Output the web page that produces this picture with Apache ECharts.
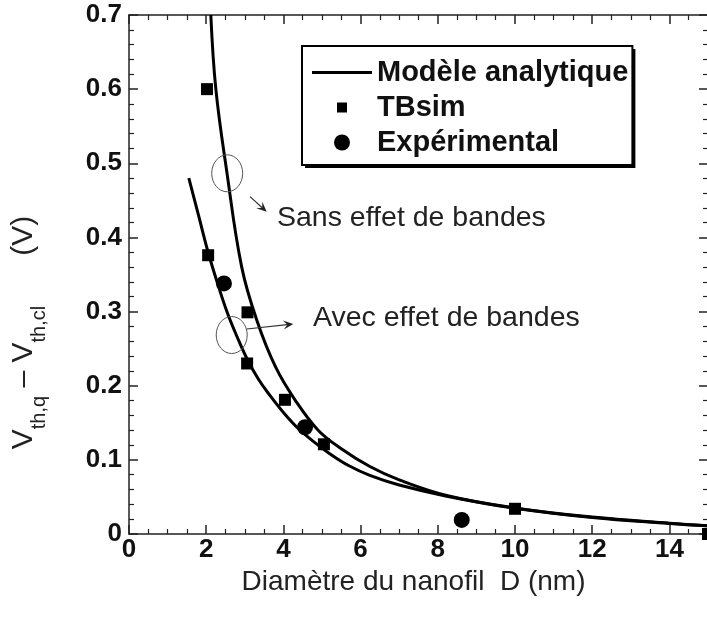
<!DOCTYPE html>
<html><head><meta charset="utf-8">
<script src="https://cdn.jsdelivr.net/npm/echarts@6/dist/echarts.min.js"></script>
<style>html,body{margin:0;padding:0;background:#fff}#c{width:707px;height:619px}</style>
</head><body><div id="c"></div>
<script>
// ---------- data ----------
const xTicks = [0, 2, 4, 6, 8, 10, 12, 14];
const xTickLabels = ['0', '2', '4', '6', '8', '10', '12', '14'];
const yTicks = [0, 0.1, 0.2, 0.3, 0.4, 0.5, 0.6, 0.7];
const yTickLabels = ['0', '0.1', '0.2', '0.3', '0.4', '0.5', '0.6', '0.7'];

// Modèle analytique – sans effet de bandes
const sansX = [2.12, 2.25, 2.53, 2.92, 3.32, 3.8, 4.3, 4.9, 5.5, 6.24, 7.0, 8.23, 10, 12, 14, 15];
const sansY = [0.70, 0.60, 0.49, 0.36, 0.287, 0.225, 0.181, 0.140, 0.115, 0.091, 0.073, 0.052, 0.0352, 0.0228, 0.0145, 0.011];
// Modèle analytique – avec effet de bandes
const avecX = [1.55, 1.8, 2.05, 2.3, 2.55, 2.8, 3.06, 3.35, 3.65, 4.0, 4.39, 4.8, 5.21, 5.7, 6.24, 7.0, 8.23, 10, 12, 14, 15];
const avecY = [0.48, 0.43, 0.38, 0.337, 0.298, 0.266, 0.236, 0.209, 0.187, 0.164, 0.142, 0.124, 0.108, 0.092, 0.079, 0.066, 0.051, 0.0347, 0.0222, 0.0143, 0.011];
// TBsim
const tbX = [2.02, 2.05, 3.07, 3.06, 4.04, 5.05, 10.0, 15.0];
const tbY = [0.600, 0.376, 0.299, 0.230, 0.181, 0.121, 0.034, 0.0];
// Expérimental
const expX = [2.46, 4.56, 8.62];
const expY = [0.338, 0.144, 0.019];

const legendNames = ['Modèle analytique', 'TBsim', 'Expérimental'];
const xTitle = 'Diamètre du nanofil  D (nm)';
const annTexts = ['Sans effet de bandes', 'Avec effet de bandes'];
// annotation anchors in data coordinates
const ellipseCenters = [[2.544, 0.4865], [2.661, 0.2684]];
const arrowSegs = [[[3.135, 0.455], [3.567, 0.4347]], [[3.049, 0.2765], [4.256, 0.2832]]];
const textAnchors = [[3.834, 0.4262], [4.767, 0.2913]];

// ---------- chart ----------
const FONT = 'Liberation Sans, Arial, Helvetica, sans-serif';
const zip = (a, b) => a.map((v, i) => [v, b[i]]);
const chart = echarts.init(document.getElementById('c'), null, {renderer: 'canvas'});

function lab(ticks, labels) {
  return v => { const i = ticks.findIndex(t => Math.abs(t - v) < 1e-9); return i < 0 ? '' : labels[i]; };
}
const axisLineStyle = {color: '#222', width: 1.5};

const LEG = {left: 302, top: 46, pad: [12, 4, 8, 10], iw: 60, ih: 20, gap: 6, fs: 29};

const option = {
  backgroundColor: '#fff',
  animation: false,
  grid: {left: 129, right: -1, top: 15, bottom: 85, containLabel: false, outerBoundsMode: 'none'},
  legend: {
    orient: 'vertical', left: LEG.left, top: LEG.top,
    padding: LEG.pad, itemWidth: LEG.iw, itemHeight: LEG.ih, itemGap: LEG.gap,
    backgroundColor: '#fff', borderColor: '#000', borderWidth: 2,
    selectedMode: false, z: 6,
    textStyle: {fontFamily: FONT, fontSize: LEG.fs, fontWeight: 'bold', color: '#111'},
    data: [
      {name: legendNames[0], icon: 'path://M0,0 M60,20 M0,8.5 L60,8.5 L60,11.5 L0,11.5 Z', itemStyle: {color: '#000'}},
      {name: legendNames[1], icon: 'path://M0,0 M60,20 M25,5 L35,5 L35,15 L25,15 Z', itemStyle: {color: '#000'}},
      {name: legendNames[2], icon: 'path://M0,0 M60,20 M22,10 A8,8 0 1,1 38,10 A8,8 0 1,1 22,10 Z', itemStyle: {color: '#000'}}
    ]
  },
  xAxis: [{
    type: 'value', min: 0, max: 15, interval: 2, position: 'bottom',
    axisLine: {show: true, onZero: false, lineStyle: axisLineStyle},
    axisTick: {show: true, inside: true, length: 9, lineStyle: axisLineStyle},
    minorTick: {show: true, splitNumber: 4, length: 5, lineStyle: {color: '#222', width: 1.2}},
    splitLine: {show: false},
    axisLabel: {formatter: lab(xTicks, xTickLabels), fontFamily: FONT, fontSize: 26, fontWeight: 'bold', color: '#111', margin: 3},
    name: xTitle, nameLocation: 'middle', nameGap: 30,
    nameTextStyle: {fontFamily: FONT, fontSize: 28, color: '#222', padding: [0, 10, 0, 0]}
  }, {
    type: 'value', min: 0, max: 15, interval: 2, position: 'top',
    axisLine: {show: true, onZero: false, lineStyle: axisLineStyle},
    axisTick: {show: true, inside: true, length: 9, lineStyle: axisLineStyle},
    minorTick: {show: true, splitNumber: 4, length: 5, lineStyle: {color: '#222', width: 1.2}},
    splitLine: {show: false}, axisLabel: {show: false}
  }],
  yAxis: [{
    type: 'value', min: 0, max: 0.7, interval: 0.1, position: 'left',
    axisLine: {show: true, onZero: false, lineStyle: axisLineStyle},
    axisTick: {show: true, inside: true, length: 9, lineStyle: axisLineStyle},
    minorTick: {show: true, splitNumber: 5, length: 5, lineStyle: {color: '#222', width: 1.2}},
    splitLine: {show: false},
    axisLabel: {formatter: lab(yTicks, yTickLabels), fontFamily: FONT, fontSize: 26, fontWeight: 'bold', color: '#111', margin: 7},
    name: '{v|V}{s|th,q}{v| – V}{s|th,cl}{v|      (V)}',
    nameLocation: 'middle', nameGap: 85, nameRotate: 90, nameMoveOverlap: false,
    nameTextStyle: {
      fontFamily: FONT, color: '#222', padding: [0, 116, 0, 0],
      rich: {
        v: {fontFamily: FONT, fontSize: 30, color: '#222', lineHeight: 30, padding: [0, 0, 10, 0]},
        s: {fontFamily: FONT, fontSize: 20, color: '#222', lineHeight: 20, padding: [20, 0, 0, 0]}
      }
    }
  }, {
    type: 'value', min: 0, max: 0.7, interval: 0.1, position: 'right',
    axisLine: {show: true, onZero: false, lineStyle: axisLineStyle},
    axisTick: {show: true, inside: true, length: 9, lineStyle: axisLineStyle},
    minorTick: {show: true, splitNumber: 5, length: 5, lineStyle: {color: '#222', width: 1.2}},
    splitLine: {show: false}, axisLabel: {show: false}
  }],
  series: [
    {name: legendNames[0], type: 'line', data: zip(sansX, sansY), smooth: 0.4,
     symbol: 'none', lineStyle: {color: '#000', width: 3}, itemStyle: {color: '#000'}, clip: true, z: 2},
    {name: legendNames[0], type: 'line', data: zip(avecX, avecY), smooth: 0.4,
     symbol: 'none', lineStyle: {color: '#000', width: 3}, itemStyle: {color: '#000'}, clip: true, z: 2},
    {name: legendNames[1], type: 'scatter', data: zip(tbX, tbY), symbol: 'rect', symbolSize: 12,
     itemStyle: {color: '#000', opacity: 1}, z: 3},
    {name: legendNames[2], type: 'scatter', data: zip(expX, expY), symbol: 'circle', symbolSize: 16,
     itemStyle: {color: '#000', opacity: 1}, z: 3}
  ]
};
chart.setOption(option);

// ---------- annotations (positioned through the axes) ----------
const px = p => chart.convertToPixel({xAxisIndex: 0, yAxisIndex: 0}, p);
const g = [];
ellipseCenters.forEach(c => {
  const p = px(c);
  g.push({type: 'ellipse', shape: {cx: p[0], cy: p[1], rx: 15.5, ry: 18.5},
          style: {fill: 'none', stroke: '#555', lineWidth: 1}, z: 10});
});
arrowSegs.forEach(seg => {
  const a = px(seg[0]), b = px(seg[1]);
  const dx = b[0] - a[0], dy = b[1] - a[1], L = Math.hypot(dx, dy);
  const ux = dx / L, uy = dy / L, nx = -uy, ny = ux;
  const hl = 10, hw = 4.5;
  const back = [b[0] - ux * hl, b[1] - uy * hl];
  const notch = [b[0] - ux * hl * 0.6, b[1] - uy * hl * 0.6];
  g.push({type: 'line', shape: {x1: a[0], y1: a[1], x2: notch[0], y2: notch[1]},
          style: {stroke: '#333', lineWidth: 1.2}, z: 10});
  g.push({type: 'polygon', shape: {points: [b, [back[0] + nx * hw, back[1] + ny * hw], notch, [back[0] - nx * hw, back[1] - ny * hw]]},
          style: {fill: '#222'}, z: 10});
});
textAnchors.forEach((t, i) => {
  const p = px(t);
  g.push({type: 'text', x: p[0], y: p[1], style: {text: annTexts[i], font: '28.5px ' + FONT, fill: '#222',
          textAlign: 'left', textVerticalAlign: 'middle'}, z: 10});
});
// drop shadow of the legend box (solid, offset to the lower right), sized from the rendered legend
let legRect = null;
try {
  const lm = chart.getModel().getComponent('legend');
  const view = chart.getViewOfComponentModel(lm);
  const bg = view._backgroundEl;
  if (bg && bg.shape) {
    legRect = {x: view.group.x + bg.x + bg.shape.x, y: view.group.y + bg.y + bg.shape.y, width: bg.shape.width, height: bg.shape.height};
  }
} catch (e) { legRect = null; }
if (!legRect) {
  const mctx = document.createElement('canvas').getContext('2d');
  mctx.font = 'bold ' + LEG.fs + 'px ' + FONT;
  const tw = Math.max.apply(null, legendNames.map(n => mctx.measureText(n).width));
  legRect = {x: LEG.left, y: LEG.top, width: LEG.pad[3] + LEG.iw + 5 + tw + LEG.pad[1],
             height: LEG.pad[0] + 3 * LEG.fs + 2 * LEG.gap + LEG.pad[2]};
}
g.push({type: 'rect', shape: {x: legRect.x + 3, y: legRect.y + 3, width: legRect.width, height: legRect.height},
        style: {fill: '#000'}, z: 1});
chart.setOption({graphic: g});
</script>
</body></html>
